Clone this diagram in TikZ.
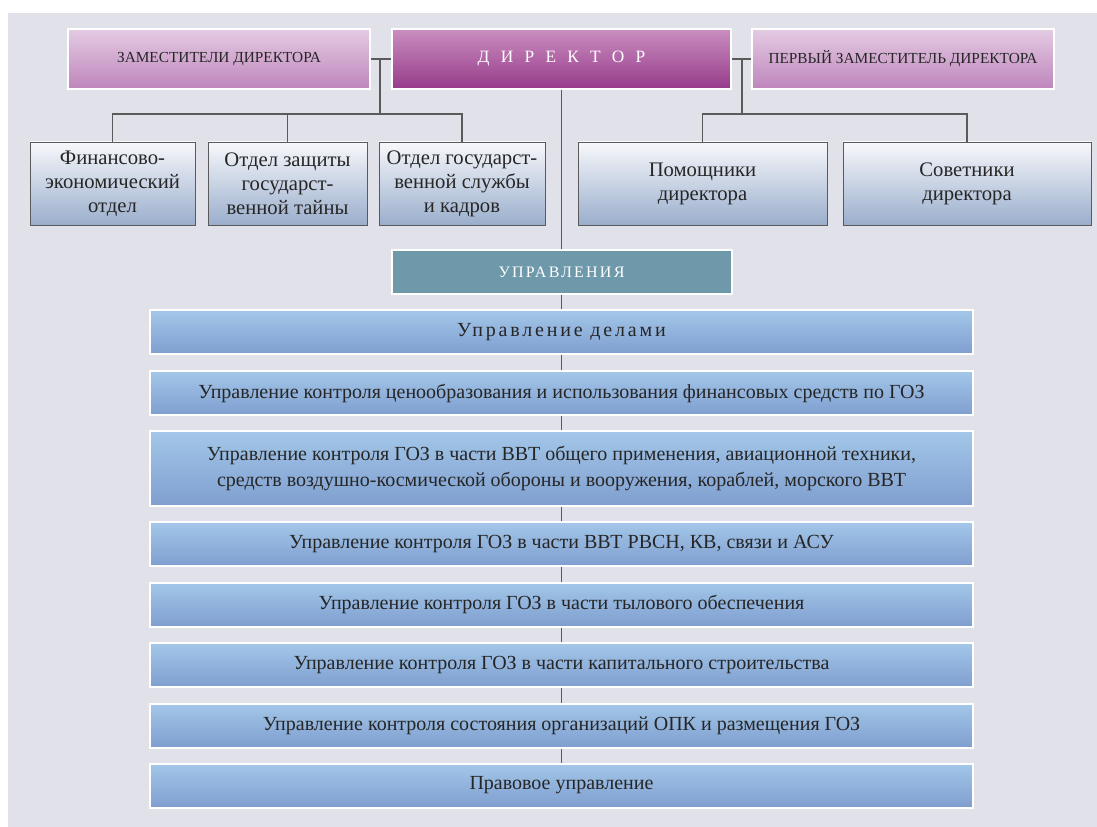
\documentclass[tikz,border=0pt]{standalone}
\usepackage{fontspec}
\setmainfont{Liberation Serif}
\newfontfamily\spacedfont[LetterSpace=14]{Liberation Serif}
\newfontfamily\widefont[LetterSpace=65]{Liberation Serif}
\definecolor{panel}{HTML}{E1E1EA}
\definecolor{linegray}{HTML}{5A5A5A}
\definecolor{textdark}{HTML}{262626}
\definecolor{zamtop}{HTML}{E4CBE3}
\definecolor{zambot}{HTML}{BE85BB}
\definecolor{dirtop}{HTML}{CA8EC0}
\definecolor{dirbot}{HTML}{963B8A}
\definecolor{deptop}{HTML}{F7F8FB}
\definecolor{depbot}{HTML}{9AAECC}
\definecolor{uprfill}{HTML}{6E99AB}
\definecolor{bartop}{HTML}{A3C7E9}
\definecolor{barbot}{HTML}{7F9ECF}

\begin{document}
\begin{tikzpicture}[x=0.75pt,y=-0.75pt,
  link/.style={draw=linegray,line width=0.9pt},
  headbox/.style={draw=white,line width=1.5pt,inner sep=0pt,minimum height=45pt,
    top color=zamtop,bottom color=zambot,text=textdark,font=\fontsize{11.5}{13}\selectfont},
  deptbox/.style={draw=linegray,line width=0.6pt,inner sep=0pt,minimum height=62.25pt,
    top color=deptop,bottom color=depbot,text=textdark,align=center,
    font=\fontsize{15.5}{18}\selectfont},
  barbox/.style={draw=white,line width=1.5pt,inner sep=0pt,minimum width=617.25pt,
    minimum height=33pt,top color=bartop,bottom color=barbot,text=textdark,
    align=center,font=\fontsize{15}{19.5}\selectfont}]
\useasboundingbox (0,0) rectangle (1097,827);
\fill[panel] (8,13) rectangle (1097,827);
% top row
\node[headbox,minimum width=226.5pt] (zam) at (219,59) {ЗАМЕСТИТЕЛИ ДИРЕКТОРА};
\node[headbox,minimum width=254.25pt,top color=dirtop,bottom color=dirbot,text=white,
  font=\fontsize{13}{15}\widefont] (dir) at (561.5,59) {ДИРЕКТОР};
\node[headbox,minimum width=226.5pt] (perv) at (903,59) {ПЕРВЫЙ ЗАМЕСТИТЕЛЬ ДИРЕКТОРА};
% departments
\node[deptbox,minimum width=123.75pt] (fin) at (112.5,183.5) {Финансово-\\экономический\\отдел};
\node[deptbox,minimum width=119.25pt] (zash) at (287.5,183.5) {Отдел защиты\\государст-\\венной тайны};
\node[deptbox,minimum width=124.5pt] (gos) at (462,183.5) {Отдел государст-\\венной службы\\и кадров};
\node[deptbox,minimum width=186.75pt] (pom) at (702.5,183.5) {Помощники\\директора};
\node[deptbox,minimum width=186pt] (sov) at (967,183.5) {Советники\\директора};
% upravleniya
\node[draw=white,line width=1.5pt,fill=uprfill,inner sep=0pt,minimum width=255pt,
  minimum height=33pt,text=white,font=\fontsize{12}{14}\spacedfont] (upr) at (561.5,272) {УПРАВЛЕНИЯ};
\node[barbox] (b1) at (561.5,332) {\spacedfont Управление делами};
\node[barbox] (b2) at (561.5,393) {Управление контроля ценообразования и использования финансовых средств по ГОЗ};
\node[barbox,minimum height=56.25pt] (b3) at (561.5,468.5) {Управление контроля ГОЗ в части ВВТ общего применения, авиационной техники,\\средств воздушно-космической обороны и вооружения, кораблей, морского ВВТ};
\node[barbox] (b4) at (561.5,544) {Управление контроля ГОЗ в части ВВТ РВСН, КВ, связи и АСУ};
\node[barbox] (b5) at (561.5,604.5) {Управление контроля ГОЗ в части тылового обеспечения};
\node[barbox] (b6) at (561.5,665) {Управление контроля ГОЗ в части капитального строительства};
\node[barbox] (b7) at (561.5,725.5) {Управление контроля состояния организаций ОПК и размещения ГОЗ};
\node[barbox] (b8) at (561.5,785.5) {Правовое управление};
% left branch
\coordinate (lbus) at (380,114);
\draw[link] (zam.east) -- (dir.west);
\draw[link] (lbus |- zam.east) -- (lbus);
\draw[link] (fin.north) |- (lbus);
\draw[link] (gos.north) |- (lbus);
\draw[link] (zash.north) -- (zash.north |- lbus);
% right branch
\coordinate (rbus) at (742,114);
\draw[link] (dir.east) -- (perv.west);
\draw[link] (rbus |- perv.west) -- (rbus);
\draw[link] (pom.north) |- (rbus);
\draw[link] (sov.north) |- (rbus);
% spine
\draw[link] (dir.south) -- (upr.north);
\draw[link] (upr.south) -- (b1.north);
\draw[link] (b1.south) -- (b2.north);
\draw[link] (b2.south) -- (b3.north);
\draw[link] (b3.south) -- (b4.north);
\draw[link] (b4.south) -- (b5.north);
\draw[link] (b5.south) -- (b6.north);
\draw[link] (b6.south) -- (b7.north);
\draw[link] (b7.south) -- (b8.north);
\end{tikzpicture}
\end{document}
